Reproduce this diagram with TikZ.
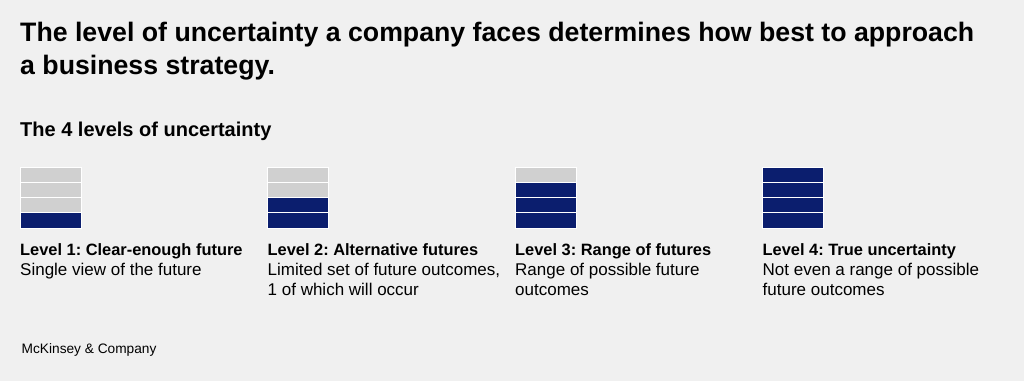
\documentclass[tikz,border=0pt]{standalone}
\usepackage{fontspec}
\setmainfont{Liberation Sans}
\definecolor{bg}{HTML}{F0F0F0}
\definecolor{navy}{HTML}{0B1E6E}
\definecolor{lite}{HTML}{D0D0D0}
\frenchspacing
\begin{document}
\begin{tikzpicture}[x=1pt,y=-1pt,
  title/.style={anchor=base west,inner sep=0pt,font=\fontsize{26.7}{33}\selectfont\bfseries},
  subt/.style={anchor=base west,inner sep=0pt,font=\fontsize{20}{22}\selectfont\bfseries},
  lvl/.style={anchor=base west,inner sep=0pt,font=\fontsize{16.4}{20}\selectfont\bfseries},
  desc/.style={anchor=base west,inner sep=0pt,font=\fontsize{17}{20}\selectfont},
  foot/.style={anchor=base west,inner sep=0pt,font=\fontsize{13.7}{16}\selectfont},
  on/.style={fill=navy,draw=white,line width=0.8pt},
  off/.style={fill=lite,draw=white,line width=0.8pt}]
\fill[bg] (0,0) rectangle (1024,381);
\useasboundingbox (0,0) rectangle (1024,381);
\node[title] (t1) at (20,41) {The level of uncertainty a company faces determines how best to approach};
\node[title] (t2) at (20,74) {a business strategy.};
\node[subt] (st) at (20,136.5) {The 4 levels of uncertainty};
% stacks
\foreach \i/\x/\n in {1/20/1,2/267.5/2,3/515/3,4/762.5/4}{
  \foreach \r in {1,...,4}{
    \pgfmathtruncatemacro{\isOn}{(5-\r)<=\n ? 1 : 0}
    \pgfmathsetmacro{\ytop}{167+(\r-1)*15.25}
    \ifnum\isOn=1
      \path[on] (\x,\ytop) rectangle ++(61,15.25);
    \else
      \path[off] (\x,\ytop) rectangle ++(61,15.25);
    \fi
  }
}
\node[lvl] (l1) at (20,255) {Level 1: Clear-enough future};
\node[desc] (d1) at (20,275.5) {Single view of the future};
\node[lvl] (l2) at (267.5,255) {Level 2: Alternative futures};
\node[desc] (d2a) at (267.5,275.5) {Limited set of future outcomes,};
\node[desc] (d2b) at (267.5,295) {1 of which will occur};
\node[lvl] (l3) at (515,255) {Level 3: Range of futures};
\node[desc] (d3a) at (515,275.5) {Range of possible future};
\node[desc] (d3b) at (515,295) {outcomes};
\node[lvl] (l4) at (762.5,255) {Level 4: True uncertainty};
\node[desc] (d4a) at (762.5,275.5) {Not even a range of possible};
\node[desc] (d4b) at (762.5,295) {future outcomes};
\node[foot] (ft) at (21.5,353) {McKinsey \& Company};
\end{tikzpicture}
\end{document}
